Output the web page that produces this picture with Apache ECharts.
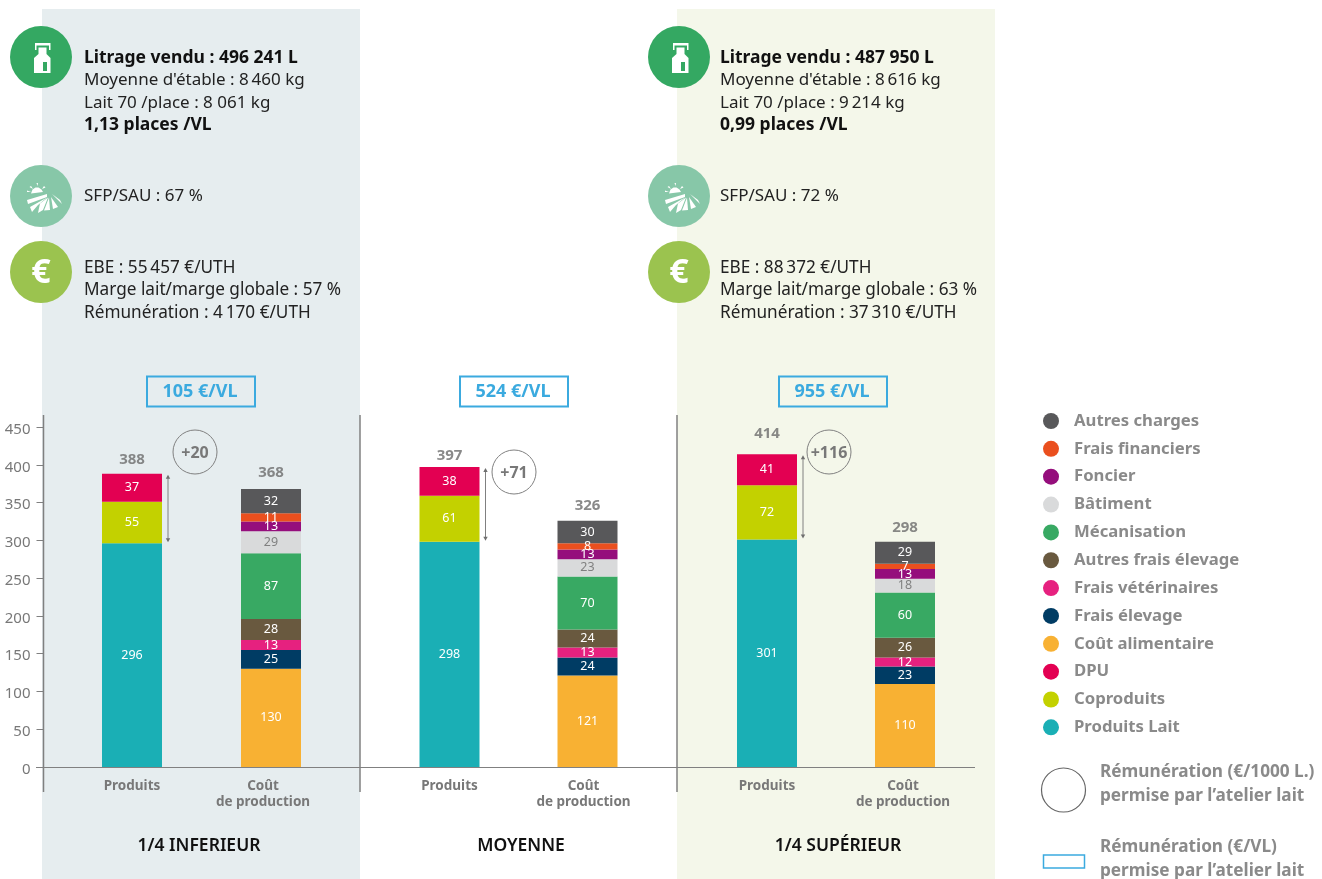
<!DOCTYPE html>
<html><head><meta charset="utf-8">
<style>html,body{margin:0;padding:0;background:#fff}#c{width:1322px;height:879px}</style>
<script src="https://cdn.jsdelivr.net/npm/echarts@6/dist/echarts.min.js"></script>
</head><body><div id="c"></div>
<script>
const FONT = '"Noto Sans", sans-serif';
const categories = ['Produits', 'Coût\nde production'];
const groupTitles = ['1/4 INFERIEUR', 'MOYENNE', '1/4 SUPÉRIEUR'];
const yMin = 0, yMax = 450, yStep = 50;

// values per group: [1/4 inférieur, moyenne, 1/4 supérieur]
const produitsLait = [296, 298, 301];
const coproduits = [55, 61, 72];
const dpu = [37, 38, 41];
const coutAlimentaire = [130, 121, 110];
const fraisElevage = [25, 24, 23];
const fraisVeterinaires = [13, 13, 12];
const autresFraisElevage = [28, 24, 26];
const mecanisation = [87, 70, 60];
const batiment = [29, 23, 18];
const foncier = [13, 13, 13];
const fraisFinanciers = [11, 8, 7];
const autresCharges = [32, 30, 29];
const totalProduits = [388, 397, 414];
const totalCout = [368, 326, 298];
const gainLabels = ['+20', '+71', '+116'];
const vlLabels = ['105 €/VL', '524 €/VL', '955 €/VL'];

const infoBlocks = [
  { a: ['Litrage vendu : 496 241 L', 'Moyenne d\'étable : 8\u2009460 kg', 'Lait 70 /place : 8 061 kg', '1,13 places /VL'], b: 'SFP/SAU : 67 %', c: ['EBE : 55\u2009457 €/UTH', 'Marge lait/marge globale : 57 %', 'Rémunération : 4\u2009170 €/UTH'] },
  { a: ['Litrage vendu : 487 950 L', 'Moyenne d\'étable : 8\u2009616 kg', 'Lait 70 /place : 9\u2009214 kg', '0,99 places /VL'], b: 'SFP/SAU : 72 %', c: ['EBE : 88\u2009372 €/UTH', 'Marge lait/marge globale : 63 %', 'Rémunération : 37\u2009310 €/UTH'] }
];

const stackDefs = [
  ['Produits Lait', produitsLait, 0, '#1aafb5', '#fff'],
  ['Coproduits', coproduits, 0, '#c3d100', '#fff'],
  ['DPU', dpu, 0, '#e30052', '#fff'],
  ['Coût alimentaire', coutAlimentaire, 1, '#f8b133', '#fff'],
  ['Frais élevage', fraisElevage, 1, '#003c64', '#fff'],
  ['Frais vétérinaires', fraisVeterinaires, 1, '#e6217f', '#fff'],
  ['Autres frais élevage', autresFraisElevage, 1, '#69593f', '#fff'],
  ['Mécanisation', mecanisation, 1, '#38a963', '#fff'],
  ['Bâtiment', batiment, 1, '#d9dadb', '#808080'],
  ['Foncier', foncier, 1, '#950e7c', '#fff'],
  ['Frais financiers', fraisFinanciers, 1, '#ea4f1e', '#fff'],
  ['Autres charges', autresCharges, 1, '#58585a', '#fff']
];
const legendNames = ['Autres charges', 'Frais financiers', 'Foncier', 'Bâtiment', 'Mécanisation', 'Autres frais élevage', 'Frais vétérinaires', 'Frais élevage', 'Coût alimentaire', 'DPU', 'Coproduits', 'Produits Lait'];

const GREY = '#787878';
const plotTop = 427, plotH = 340, zeroY = plotTop + plotH;
const grids = [
  { left: 62.5, width: 278, top: plotTop, height: plotH },
  { left: 380.5, width: 276, top: plotTop, height: plotH },
  { left: 698, width: 276, top: plotTop, height: plotH }
];
const totalLabelLift = [[2, 4], [-1, 3], [8, 2]];
const costLabelPad = [16, 8, 4];
const series = [];
grids.forEach((g, gi) => {
  stackDefs.forEach(([name, vals, col, color, lc]) => {
    const d = [null, null]; d[col] = vals[gi];
    series.push({
      name, type: 'bar', stack: 's' + gi, xAxisIndex: gi, yAxisIndex: gi, barWidth: 60,
      data: d, itemStyle: { color }, animation: false,
      label: { show: true, position: 'inside', color: lc, fontSize: 12.5, fontFamily: FONT }
    });
  });
  const lift = totalLabelLift[gi];
  series.push({
    type: 'scatter', xAxisIndex: gi, yAxisIndex: gi, symbolSize: 1, itemStyle: { color: 'transparent' }, animation: false,
    data: [
      { value: [0, totalProduits[gi]], label: { offset: [0, -lift[0]] } },
      { value: [1, totalCout[gi]], label: { offset: [0, -lift[1]] } }
    ],
    label: { show: true, position: 'top', distance: 4, color: '#6c6c6c', fontSize: 15, fontWeight: 'bold', fontFamily: FONT, formatter: p => p.value[1] }
  });
  series.push({
    type: 'custom', xAxisIndex: gi, yAxisIndex: gi, animation: false, silent: true,
    data: [[0, totalProduits[gi], produitsLait[gi]]],
    renderItem: (params, api) => {
      const a = api.coord([api.value(0), api.value(1)]), b = api.coord([api.value(0), api.value(2)]);
      const x = a[0] + 36, s = { stroke: '#808080', lineWidth: 1 }, f = { fill: '#6f6f6f' };
      return { type: 'group', children: [
        { type: 'line', shape: { x1: x, y1: a[1] + 3, x2: x, y2: b[1] - 3 }, style: s },
        { type: 'polygon', shape: { points: [[x - 2.2, a[1] + 5], [x + 2.2, a[1] + 5], [x, a[1] + 1]] }, style: f },
        { type: 'polygon', shape: { points: [[x - 2.2, b[1] - 5], [x + 2.2, b[1] - 5], [x, b[1] - 1]] }, style: f }
      ] };
    }
  });
});

const T = (x, y, text, o = {}) => ({ type: 'text', z: 20, x, y: y + 1, style: Object.assign({ text, fontFamily: FONT, fontSize: 17, fill: '#222', textVerticalAlign: 'middle', textAlign: 'left' }, o) });
const poly = (points, fill = '#fff') => ({ type: 'polygon', z: 21, shape: { points }, style: { fill } });
const churnIcon = [
  poly([[35, 43], [50.5, 43], [50.5, 50], [35, 50]]),
  poly([[36.5, 45.5], [49, 45.5], [49, 50], [36.5, 50]], '#34a862'),
  poly([[38.5, 47.5], [46.5, 47.5], [46.5, 54], [50.5, 58], [50.5, 73], [34, 73], [34, 58], [38.5, 54]]),
  poly([[43, 62], [47, 62], [47, 71], [43, 71]], '#34a862')
];
const fieldIcon = [
  poly([[27, 200], [47, 194], [47, 197], [28, 204]]),
  poly([[30, 207], [47, 197.5], [38, 205], [32, 212]]),
  poly([[48, 197.5], [43, 210], [38, 213], [40, 203.5]]),
  poly([[49, 197.5], [44, 210.5], [50, 210]]),
  poly([[51, 197], [53, 209], [58, 207]]),
  poly([[52, 194], [62, 204], [60, 200]]),
  poly([[31, 193.5], [32.500, 189.5], [35.500, 187.500], [38.500, 187.500], [41.500, 189.5], [43, 192]]),
  poly([[36.5, 183], [38, 183], [37.5, 186]]),
  poly([[29.5, 187], [31, 186], [33, 189]]),
  poly([[44, 186], [45.5, 187.500], [42, 189]]),
  poly([[27, 192], [27, 190.5], [31, 192]])
];
const gr = [
  { type: 'rect', z: 0, shape: { x: 42, y: 9, width: 318, height: 870 }, style: { fill: '#e6edef' } },
  { type: 'rect', z: 0, shape: { x: 677, y: 9, width: 318, height: 870 }, style: { fill: '#f4f7ea' } }
];
[43.5, 360, 677].forEach(x => gr.push({ type: 'line', z: 1, shape: { x1: x, y1: 415, x2: x, y2: 792 }, style: { stroke: '#808080', lineWidth: 1.5 } }));
gr.push({ type: 'line', z: 1, shape: { x1: 36, y1: zeroY + .5, x2: 975, y2: zeroY + .5 }, style: { stroke: '#808080', lineWidth: 1.2 } });

[[0, 0, 0], [1, 638, 636]].forEach(([bi, dx, tx]) => {
  const b = infoBlocks[bi], lh = 22.5;
  gr.push({ type: 'group', x: dx, y: 0, children: [
    { type: 'circle', z: 20, shape: { cx: 41, cy: 57, r: 31 }, style: { fill: '#34a862' } },
    ...churnIcon,
    { type: 'circle', z: 20, shape: { cx: 41, cy: 196, r: 31 }, style: { fill: '#87c7a8' } },
    ...fieldIcon,
    { type: 'circle', z: 20, shape: { cx: 41, cy: 272, r: 31 }, style: { fill: '#9bc34f' } },
    Object.assign(T(41, 272, '€', { fontSize: 34, fontWeight: 'bold', fill: '#fff', textAlign: 'center' }), { z: 21 })
  ] });
  gr.push(...b.a.map((t, i) => T(84 + tx, 57 + i * lh, t, (i == 0 || i == 3) ? { fontWeight: 'bold', fill: '#111', fontSize: 17.5 } : {})));
  gr.push(T(84 + tx, 195, b.b));
  gr.push(...b.c.map((t, i) => T(84 + tx, 267 + i * lh, t, { fontSize: 17.2 })));
});

const boxX = [147, 460, 779], circ = [[195, 452], [514, 472], [829, 452]], titleX = [199, 521, 838];
vlLabels.forEach((t, i) => {
  gr.push({ type: 'rect', z: 20, shape: { x: boxX[i], y: 376.5, width: 108, height: 30 }, style: { fill: 'none', stroke: '#3baadf', lineWidth: 2 } });
  gr.push(T(boxX[i] + 53, 390.5, t, { textAlign: 'center', fontWeight: 'bold', fill: '#3baadf', fontSize: 18 }));
  gr.push({ type: 'circle', z: 20, shape: { cx: circ[i][0], cy: circ[i][1], r: 22 }, style: { fill: 'none', stroke: '#808080', lineWidth: 1 } });
  gr.push(T(circ[i][0], circ[i][1], gainLabels[i], { textAlign: 'center', fontWeight: 'bold', fill: GREY, fontSize: 16 }));
  gr.push(T(titleX[i], 845.5, groupTitles[i], { textAlign: 'center', fontWeight: 600, fill: '#111', fontSize: 17.5 }));
});
gr.push({ type: 'circle', z: 20, shape: { cx: 1063.5, cy: 790, r: 22 }, style: { fill: 'none', stroke: '#666', lineWidth: 1.2 } });
gr.push({ type: 'rect', z: 20, shape: { x: 1043.5, y: 855, width: 41, height: 13 }, style: { fill: 'none', stroke: '#3baadf', lineWidth: 1.5 } });
[[771, 'Rémunération (€/1000 L.)'], [795, 'permise par l’atelier lait'], [846, 'Rémunération (€/VL)'], [870, 'permise par l’atelier lait']].forEach(([y, t]) =>
  gr.push(T(1100, y, t, { fontWeight: 'bold', fill: '#8a8a8a', fontSize: 17.2 })));

const chart = echarts.init(document.getElementById('c'), null, { renderer: 'canvas' });
const xLabelBase = { color: GREY, fontWeight: 'bold', fontSize: 13.5, fontFamily: FONT, lineHeight: 16 };
chart.setOption({
  animation: false,
  grid: grids,
  xAxis: grids.map((g, i) => ({
    type: 'category', gridIndex: i, data: categories, axisLine: { show: false }, axisTick: { show: false },
    axisLabel: Object.assign({}, xLabelBase, {
      margin: 11, interval: 0,
      formatter: v => v.split('\n').map(l => (v.startsWith('Coût') ? '{c|' : '{p|') + l + '}').join('\n'),
      rich: { p: xLabelBase, c: Object.assign({}, xLabelBase, { padding: [0, costLabelPad[i], 0, 0] }) }
    })
  })),
  yAxis: grids.map((g, i) => ({
    type: 'value', gridIndex: i, min: yMin, max: yMax, interval: yStep, position: 'left', offset: i ? 0 : 19, show: i === 0, splitLine: { show: false },
    axisLine: { show: false }, axisTick: { show: true, length: 7, lineStyle: { color: '#808080' } },
    axisLabel: { color: GREY, fontSize: 15, fontFamily: FONT, margin: 13, verticalAlign: 'top', lineHeight: 5 }
  })),
  legend: {
    orient: 'vertical', left: 1038, top: 406, icon: 'circle', itemWidth: 16, itemHeight: 16, itemGap: 7.85,
    data: legendNames, selectedMode: false,
    textStyle: { color: '#8a8a8a', fontWeight: 'bold', fontSize: 16.7, fontFamily: FONT, padding: [0, 0, 0, 10], height: 20, lineHeight: 20 }
  },
  graphic: { elements: gr },
  series
});
</script></body></html>
